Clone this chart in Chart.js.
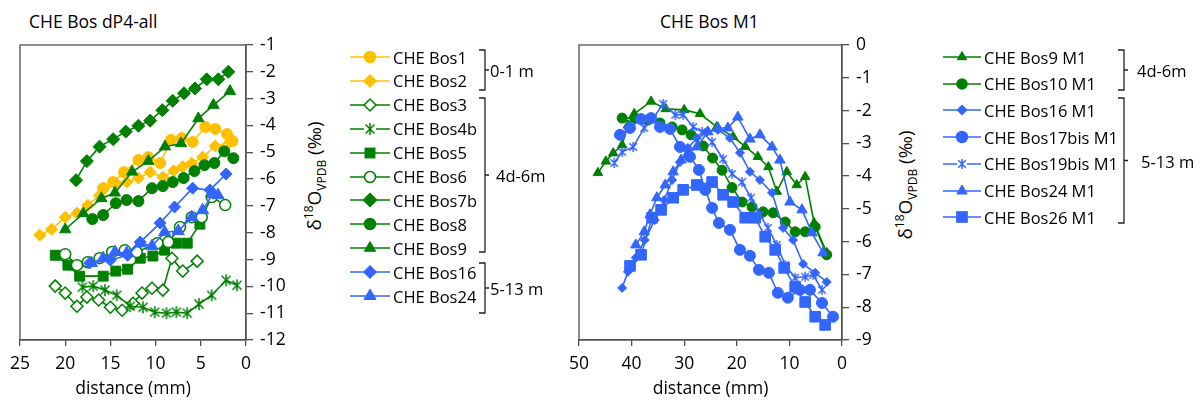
<!DOCTYPE html>
<html>
<head>
<meta charset="utf-8">
<script src="https://cdn.jsdelivr.net/npm/chart.js@4.4.1/dist/chart.umd.min.js"></script>
<style>
  body { margin: 0; width: 1202px; height: 412px; background: #fff; position: relative; overflow: hidden;
         font-family: "Open Sans", sans-serif; color: #000; }
  canvas { position: absolute; }
  .title { position: absolute; font-size: 17.5px; white-space: nowrap; }
  .ytitle { position: absolute; font-size: 19px; white-space: nowrap; transform: translate(-50%, -50%) rotate(-90deg); }
  .ytitle sup, .ytitle sub { font-size: 12px; }
  .row { position: absolute; height: 22px; display: flex; align-items: center; white-space: nowrap; font-size: 16.5px; }
  .row svg { margin-right: 3px; }
  .grp { position: absolute; font-size: 16.5px; white-space: nowrap; transform: translateY(-50%); }
  #brackets { position: absolute; left: 0; top: 0; }
</style>
</head>
<body>
<div class="title" style="left:29px;top:9px;">CHE Bos dP4-all</div>
<div class="title" style="left:660px;top:9px;">CHE Bos M1</div>
<div class="ytitle" style="left:315px;top:176px;">δ<sup>18</sup>O<sub>VPDB</sub> (‰)</div>
<div class="ytitle" style="left:906px;top:185px;">δ<sup>18</sup>O<sub>VPDB</sub> (‰)</div>
<canvas id="leftChart" width="300" height="400" style="left:0;top:0;"></canvas>
<canvas id="rightChart" width="340" height="400" style="left:560px;top:0;"></canvas>
<svg id="brackets" width="1202" height="412"></svg>
<div id="legends"></div>

<script>
const GOLD = '#FFC000', GREEN = '#008000', BLUE = '#3366FF';
const AXIS = '#505050';

// ---------- CHE Bos dP4-all : distance (mm) / d18O ----------
const bos1Dist  = [15.8, 14.7, 13.5, 11.9, 10.8, 9.5, 8.3, 7.1, 5.9, 4.5, 3.4, 2.1, 1.5];
const bos1D18O  = [-6.34, -6.11, -5.74, -5.29, -5.18, -5.40, -4.54, -4.47, -4.62, -4.06, -4.13, -4.32, -4.58];
const bos2Dist  = [22.8, 21.5, 20.0, 18.7, 17.5, 16.2, 15.7, 14.4, 13.2, 11.9, 10.6, 9.2, 8.0, 7.0, 6.0, 4.8, 3.4, 1.8];
const bos2D18O  = [-8.09, -7.87, -7.42, -7.27, -6.98, -6.60, -6.34, -6.15, -6.11, -5.96, -5.74, -5.93, -5.69, -5.54, -5.41, -5.18, -4.77, -4.62];
const bos3Dist  = [21.1, 20.0, 18.7, 17.6, 16.3, 15.0, 13.7, 12.5, 11.5, 10.4, 9.2, 8.2, 7.0, 5.4];
const bos3D18O  = [-9.99, -10.25, -10.74, -10.40, -10.51, -10.78, -10.89, -10.63, -10.25, -10.07, -10.14, -8.95, -9.43, -9.06];
const bos4bDist = [18.1, 16.9, 15.6, 14.3, 12.8, 11.4, 10.1, 8.8, 7.7, 6.5, 5.2, 3.8, 2.2, 1.0];
const bos4bD18O = [-10.03, -9.99, -10.14, -10.33, -10.74, -10.78, -10.96, -11.0, -10.96, -11.0, -10.66, -10.33, -9.77, -9.96];
const bos5Dist  = [21.1, 19.7, 18.4, 15.8, 14.4, 13.1, 11.7, 10.3, 9.0, 7.7, 6.5, 5.1];
const bos5D18O  = [-8.84, -9.21, -9.62, -9.62, -9.43, -9.36, -8.95, -8.87, -8.65, -8.39, -8.39, -7.68];
const bos6Dist  = [20.0, 18.7, 17.5, 16.2, 14.8, 13.4, 12.1, 9.8, 8.6, 7.3, 6.0, 4.9, 3.8, 2.3];
const bos6D18O  = [-8.80, -9.21, -9.10, -8.95, -8.72, -8.65, -8.72, -8.39, -8.35, -7.79, -7.42, -7.42, -6.67, -6.97];
const bos7bDist = [18.8, 17.6, 16.2, 14.7, 13.3, 11.9, 10.6, 9.26, 8.11, 6.86, 5.64, 4.35, 3.06, 1.96];
const bos7bD18O = [-6.04, -5.33, -4.79, -4.51, -4.23, -4.01, -3.82, -3.43, -3.08, -2.80, -2.62, -2.28, -2.28, -2.0];
const bos8Dist  = [17.0, 15.8, 14.4, 13.2, 11.9, 10.4, 9.2, 8.1, 6.9, 5.7, 4.6, 3.5, 2.4, 1.4];
const bos8D18O  = [-7.49, -7.34, -6.90, -6.78, -6.82, -6.34, -6.26, -6.11, -5.96, -5.70, -5.48, -5.40, -4.96, -5.22];
const bos9Dist  = [20.0, 18.0, 16.0, 14.5, 12.6, 10.8, 8.96, 7.19, 5.27, 3.6, 1.77];
const bos9D18O  = [-7.88, -7.28, -6.72, -6.51, -5.73, -5.33, -4.79, -4.67, -3.74, -3.24, -2.72];
const bos16Dist = [17.3, 15.0, 13.1, 11.7, 9.5, 7.9, 5.9, 4.0, 2.2];
const bos16D18O = [-9.13, -9.02, -8.84, -8.35, -7.64, -7.04, -6.34, -6.41, -5.81];
const bos24Dist = [17.1, 15.8, 14.5, 13.2, 11.7, 10.4, 9.0, 7.5, 6.0, 4.8, 3.7, 3.1];
const bos24D18O = [-9.13, -8.95, -8.72, -8.76, -8.39, -8.50, -7.98, -7.94, -7.42, -7.16, -6.56, -6.60];

// ---------- CHE Bos M1 : distance (mm) / d18O ----------
const m1Bos9Dist   = [46.4, 44.9, 43.5, 41.8, 40.7, 39.5, 36.3, 33.5, 30.0, 27.0, 23.8, 20.7, 18.4, 16.0, 14.0, 12.4, 10.5, 8.6, 7.0, 5.3, 2.9];
const m1Bos9D18O   = [-3.90, -3.55, -3.30, -3.05, -2.45, -2.10, -1.72, -1.95, -1.98, -2.10, -2.50, -2.80, -3.10, -3.41, -3.72, -4.47, -3.87, -4.27, -4.02, -5.43, -6.34];
const m1Bos10Dist  = [41.8, 39.4, 36.9, 34.6, 32.3, 30.4, 28.7, 26.4, 24.6, 22.8, 20.9, 19.0, 17.1, 15.0, 13.1, 10.8, 8.9, 7.0, 5.1, 2.9];
const m1Bos10D18O  = [-2.23, -2.23, -2.29, -2.38, -2.50, -2.59, -2.74, -3.08, -3.45, -3.82, -4.35, -4.79, -4.94, -5.09, -5.12, -5.40, -5.70, -5.70, -5.55, -6.40];
const m1Bos16Dist  = [41.8, 40.7, 39.2, 37.5, 35.6, 33.8, 32.3, 30.8, 29.3, 27.6, 25.7, 23.6, 21.3, 19.4, 17.5, 15.6, 13.3, 11.2, 9.3, 7.4, 5.1, 2.9];
const m1Bos16D18O  = [-7.41, -6.92, -6.49, -5.95, -5.34, -4.73, -4.12, -3.57, -3.14, -2.84, -2.65, -2.59, -2.84, -3.29, -3.87, -4.12, -4.51, -5.58, -5.95, -6.68, -6.95, -7.23];
const m1Bos17Dist  = [42.2, 40.3, 38.2, 36.3, 34.6, 32.7, 30.8, 28.9, 27.2, 26.0, 24.7, 23.4, 21.3, 19.4, 17.5, 15.8, 13.9, 12.2, 10.3, 8.0, 6.1, 3.8, 1.7];
const m1Bos17D18O  = [-2.74, -2.53, -2.26, -2.23, -2.50, -2.56, -3.11, -3.41, -3.81, -4.42, -4.97, -5.43, -5.64, -6.25, -6.43, -6.86, -6.95, -7.56, -7.71, -7.47, -7.47, -7.87, -8.29];
const m1Bos19Dist  = [43.3, 41.8, 39.7, 37.6, 35.9, 34.0, 31.7, 30.2, 28.3, 26.6, 24.7, 22.6, 20.9, 19.0, 17.3, 15.6, 14.1, 12.4, 10.8, 8.9, 7.0, 5.5, 3.8];
const m1Bos19D18O  = [-3.60, -3.26, -3.11, -2.53, -2.23, -1.80, -2.13, -2.13, -2.50, -2.65, -2.96, -3.48, -3.93, -4.18, -4.66, -5.18, -5.58, -6.10, -6.71, -7.10, -7.07, -7.01, -7.47];
const m1Bos24Dist  = [39.2, 37.6, 36.5, 35.2, 33.6, 32.1, 30.6, 29.1, 27.6, 25.5, 23.6, 21.7, 19.8, 17.5, 15.6, 13.3, 11.8, 9.9, 7.6, 5.7, 3.6];
const m1Bos24D18O  = [-6.10, -5.70, -5.18, -4.66, -4.27, -3.87, -3.51, -3.29, -3.11, -2.65, -2.53, -2.53, -2.20, -2.87, -2.74, -3.11, -3.51, -4.79, -5.03, -5.73, -6.34];
const m1Bos26Dist  = [40.3, 38.2, 36.1, 34.4, 32.1, 30.2, 27.6, 24.7, 22.6, 20.7, 18.4, 16.5, 14.6, 12.7, 11.0, 8.9, 7.0, 5.1, 3.2];
const m1Bos26D18O  = [-6.74, -6.40, -5.27, -5.03, -4.66, -4.42, -4.27, -4.18, -4.57, -4.79, -5.27, -5.27, -5.85, -6.25, -6.80, -7.38, -7.84, -8.29, -8.54];

// series styling (legend order = series order)
const leftSeries = [
  { label: 'CHE Bos1',  d: bos1Dist,  v: bos1D18O,  color: GOLD,  style: 'circle',   r: 5.5 },
  { label: 'CHE Bos2',  d: bos2Dist,  v: bos2D18O,  color: GOLD,  style: 'rectRot',  r: 6 },
  { label: 'CHE Bos3',  d: bos3Dist,  v: bos3D18O,  color: GREEN, style: 'rectRot',  r: 6, open: true },
  { label: 'CHE Bos4b', d: bos4bDist, v: bos4bD18O, color: GREEN, style: 'asterisk', r: 6 },
  { label: 'CHE Bos5',  d: bos5Dist,  v: bos5D18O,  color: GREEN, style: 'rect',     r: 7 },
  { label: 'CHE Bos6',  d: bos6Dist,  v: bos6D18O,  color: GREEN, style: 'circle',   r: 5.5, open: true },
  { label: 'CHE Bos7b', d: bos7bDist, v: bos7bD18O, color: GREEN, style: 'rectRot',  r: 6.5 },
  { label: 'CHE Bos8',  d: bos8Dist,  v: bos8D18O,  color: GREEN, style: 'circle',   r: 5.5 },
  { label: 'CHE Bos9',  d: bos9Dist,  v: bos9D18O,  color: GREEN, style: 'triangle', r: 6.5 },
  { label: 'CHE Bos16', d: bos16Dist, v: bos16D18O, color: BLUE,  style: 'rectRot',  r: 6 },
  { label: 'CHE Bos24', d: bos24Dist, v: bos24D18O, color: BLUE,  style: 'triangle', r: 7 }
];
const rightSeries = [
  { label: 'CHE Bos9 M1',      d: m1Bos9Dist,  v: m1Bos9D18O,  color: GREEN, style: 'triangle', r: 5.5 },
  { label: 'CHE Bos10 M1',     d: m1Bos10Dist, v: m1Bos10D18O, color: GREEN, style: 'circle',   r: 5 },
  { label: 'CHE Bos16 M1',     d: m1Bos16Dist, v: m1Bos16D18O, color: BLUE,  style: 'rectRot',  r: 4.5 },
  { label: 'CHE Bos17bis M1',  d: m1Bos17Dist, v: m1Bos17D18O, color: BLUE,  style: 'circle',   r: 5.5 },
  { label: 'CHE Bos19bis M1',  d: m1Bos19Dist, v: m1Bos19D18O, color: BLUE,  style: 'asterisk', r: 5 },
  { label: 'CHE Bos24 M1',     d: m1Bos24Dist, v: m1Bos24D18O, color: BLUE,  style: 'triangle', r: 6 },
  { label: 'CHE Bos26 M1',     d: m1Bos26Dist, v: m1Bos26D18O, color: BLUE,  style: 'rect',     r: 7.5 }
];

Chart.defaults.font.family = '"Open Sans", sans-serif';
Chart.defaults.color = '#000';

// excel-like asterisk marker: vertical bar plus an X
function asteriskPath(cx, cy, r) {
  const q = r * 0.75;
  return [[cx, cy - r, cx, cy + r], [cx - q, cy - q, cx + q, cy + q], [cx - q, cy + q, cx + q, cy - q]];
}
function asteriskCanvas(color, r) {
  const c = document.createElement('canvas');
  const size = Math.ceil(2 * r + 4);
  c.width = size; c.height = size;
  const ctx = c.getContext('2d');
  ctx.strokeStyle = color; ctx.lineWidth = 1.5;
  ctx.beginPath();
  asteriskPath(size / 2, size / 2, r).forEach(l => { ctx.moveTo(l[0], l[1]); ctx.lineTo(l[2], l[3]); });
  ctx.stroke();
  return c;
}

// box round the plot area
const framePlugin = {
  id: 'frame',
  beforeDatasetsDraw(chart) {
    const { ctx, chartArea: a } = chart;
    ctx.save();
    ctx.strokeStyle = AXIS;
    ctx.lineWidth = 1.3;
    ctx.strokeRect(a.left, a.top, a.right - a.left, a.bottom - a.top);
    ctx.restore();
  }
};

function toDataset(s, i) {
  return {
    label: s.label,
    data: s.d.map((x, k) => ({ x: x, y: s.v[k] })),
    borderColor: s.color,
    backgroundColor: s.color,
    borderWidth: 1.6,
    pointStyle: s.style === 'asterisk' ? asteriskCanvas(s.color, s.r) : s.style,
    pointRadius: s.r,
    pointBorderColor: s.color,
    pointBackgroundColor: s.open ? '#fff' : s.color,
    pointBorderWidth: s.open ? 1.5 : 1,
    order: -i,
    clip: false
  };
}

function makeChart(id, series, xMax, xStep, yMin, yMax, padLeft, yWidth) {
  return new Chart(document.getElementById(id).getContext('2d'), {
    type: 'line',
    data: { datasets: series.map(toDataset) },
    options: {
      responsive: false,
      animation: false,
      events: [],
      layout: { padding: { left: padLeft, top: 45, right: 0, bottom: 0 } },
      plugins: { legend: { display: false }, tooltip: { enabled: false } },
      scales: {
        x: {
          type: 'linear', reverse: true, min: 0, max: xMax,
          ticks: { stepSize: xStep, padding: 8, font: { size: 17.5 } },
          grid: { drawOnChartArea: false, tickLength: 6, color: AXIS, lineWidth: 1.3 },
          border: { color: AXIS, width: 1.3 },
          title: { display: true, text: 'distance (mm)', font: { size: 17.5 }, padding: { top: 2, bottom: 0 } },
          afterFit: s => { s.height = 60; }
        },
        y: {
          type: 'linear', position: 'right', min: yMin, max: yMax,
          ticks: { stepSize: 1, padding: 7, font: { size: 17.5 } },
          grid: { drawOnChartArea: false, tickLength: 7, color: AXIS, lineWidth: 1.3 },
          border: { color: AXIS, width: 1.3 },
          afterFit: s => { s.width = yWidth; }
        }
      }
    },
    plugins: [framePlugin]
  });
}

makeChart('leftChart', leftSeries, 25, 5, -12, -1, 20, 54);
makeChart('rightChart', rightSeries, 50, 10, -9, 0, 19, 58);

// ---------- legends (html text, svg samples) ----------
function markerSvg(s, w) {
  const cx = w / 2, cy = 11, r = s.r;
  const fill = s.open ? '#fff' : s.color;
  let m = '';
  if (s.style === 'circle') {
    m = `<circle cx="${cx}" cy="${cy}" r="${r}" fill="${fill}" stroke="${s.color}" stroke-width="1.5"/>`;
  } else if (s.style === 'rectRot') {
    m = `<polygon points="${cx - r},${cy} ${cx},${cy - r} ${cx + r},${cy} ${cx},${cy + r}" fill="${fill}" stroke="${s.color}" stroke-width="1.5"/>`;
  } else if (s.style === 'rect') {
    const h = r * Math.SQRT1_2;
    m = `<rect x="${cx - h}" y="${cy - h}" width="${2 * h}" height="${2 * h}" fill="${fill}" stroke="${s.color}"/>`;
  } else if (s.style === 'triangle') {
    m = `<polygon points="${cx},${cy - r} ${cx + 0.866 * r},${cy + 0.5 * r} ${cx - 0.866 * r},${cy + 0.5 * r}" fill="${fill}" stroke="${s.color}"/>`;
  } else if (s.style === 'asterisk') {
    const d = asteriskPath(cx, cy, r).map(l => `M${l[0]},${l[1]}L${l[2]},${l[3]}`).join('');
    m = `<rect x="${cx - r}" y="${cy - r}" width="${2 * r}" height="${2 * r}" fill="#fff"/><path d="${d}" stroke="${s.color}" stroke-width="1.5"/>`;
  }
  return `<svg width="${w}" height="22"><line x1="0" y1="${cy}" x2="${w}" y2="${cy}" stroke="${s.color}" stroke-width="1.6"/>${m}</svg>`;
}

const legendBox = document.getElementById('legends');
function buildLegend(series, left, top0, step, w) {
  series.forEach((s, i) => {
    const row = document.createElement('div');
    row.className = 'row';
    row.style.left = left + 'px';
    row.style.top = (top0 + i * step - 11) + 'px';
    row.innerHTML = markerSvg(s, w) + '<span>' + s.label + '</span>';
    legendBox.appendChild(row);
  });
}
buildLegend(leftSeries, 350, 57, 23.9, 40);
buildLegend(rightSeries, 943, 57, 26.7, 38);

// group brackets (gap = space between tick and text)
const groups = [
  { x: 485, y0: 50, y1: 90, text: '0-1 m', gap: 5 },
  { x: 485, y0: 98, y1: 252, text: '4d-6m', gap: 11 },
  { x: 485, y0: 263, y1: 313, text: '5-13 m', gap: 5 },
  { x: 1124, y0: 50, y1: 90, text: '4d-6m', gap: 13 },
  { x: 1124, y0: 98, y1: 223, text: '5-13 m', gap: 17 }
];
const svg = document.getElementById('brackets');
groups.forEach(g => {
  const mid = (g.y0 + g.y1) / 2;
  const p = document.createElementNS('http://www.w3.org/2000/svg', 'path');
  p.setAttribute('d', `M${g.x - 6},${g.y0}H${g.x}V${g.y1}H${g.x - 6}M${g.x},${mid}H${g.x + 4}`);
  p.setAttribute('stroke', '#222');
  p.setAttribute('stroke-width', '1.3');
  p.setAttribute('fill', 'none');
  svg.appendChild(p);
  const t = document.createElement('div');
  t.className = 'grp';
  t.style.left = (g.x + g.gap) + 'px';
  t.style.top = mid + 'px';
  t.textContent = g.text;
  legendBox.appendChild(t);
});
</script>
</body>
</html>
